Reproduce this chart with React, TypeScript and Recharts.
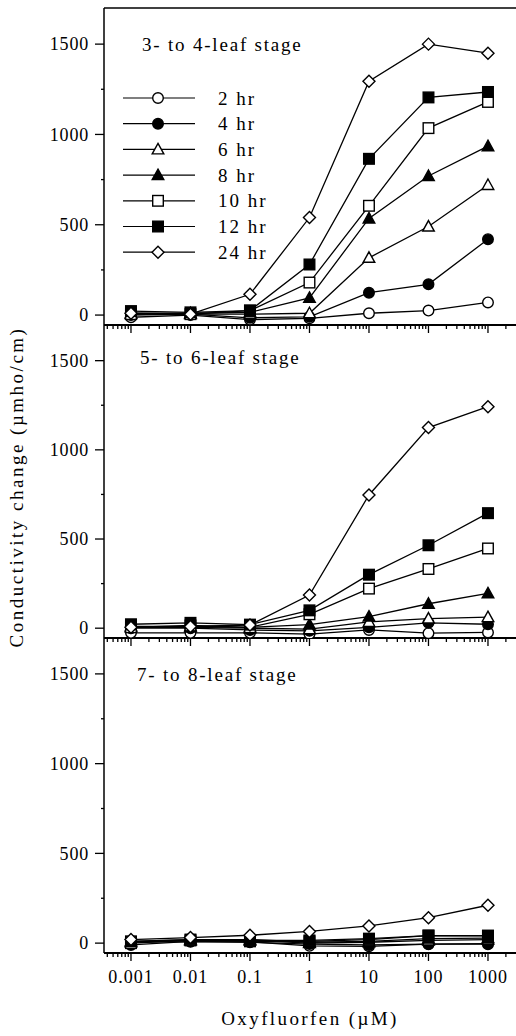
import React from "react";
import { LineChart, Line, XAxis, YAxis, ReferenceLine, Legend } from "recharts";

// Oxyfluorfen doses (µM), one point per dose for every series
const doses = [0.001, 0.01, 0.1, 1, 10, 100, 1000];
const hours = ["2 hr", "4 hr", "6 hr", "8 hr", "10 hr", "12 hr", "24 hr"];
const markers = ["circle", "disc", "triangle", "triangleFilled", "square", "squareFilled", "diamond"];
const stageLabels = ["3- to 4-leaf stage", "5- to 6-leaf stage", "7- to 8-leaf stage"];

// conductivity change (µmho/cm), rows in the order of `hours`
const stage34 = [
  [-12, 0, -25, -18, 10, 25, 70],
  [0, 5, -15, -10, 124, 170, 420],
  [5, 5, 5, 10, 317, 490, 720],
  [10, 10, 15, 95, 535, 770, 935],
  [5, 5, 25, 180, 605, 1035, 1180],
  [22, 15, 25, 280, 865, 1205, 1235],
  [10, 5, 115, 540, 1295, 1500, 1450],
];
const stage56 = [
  [-26, -26, -26, -33, -10, -28, -24],
  [0, 0, -10, -15, 5, 30, 22],
  [5, 5, 0, -5, 35, 54, 62],
  [10, 10, 5, 20, 65, 137, 195],
  [5, 15, 5, 78, 222, 332, 447],
  [22, 30, 20, 100, 300, 465, 645],
  [5, 10, 18, 186, 747, 1125, 1242],
];
const stage78 = [
  [7, 7, 7, -15, -18, -6, -6],
  [-10, 10, 5, -5, -10, -5, -3],
  [5, 15, 15, 0, 5, 15, 20],
  [10, 20, 20, 5, 10, 25, 28],
  [0, 15, 10, 10, 20, 42, 40],
  [10, 20, 15, 15, 25, 42, 42],
  [20, 31, 44, 65, 96, 142, 211],
];

const yTicks = [0, 250, 500, 750, 1000, 1250, 1500];
const yLabels = [0, 500, 1000, 1500];
const xLabels = ["0.001", "0.01", "0.1", "1", "10", "100", "1000"];

const X_DOMAIN = [0.000352, 2958];
const Y_DOMAIN = [-55, 1700];
const FONT = "'Liberation Serif', 'DejaVu Serif', serif";

// log minor ticks 1..9 per decade inside the domain
const xTicks: number[] = [];
for (let n = -4; n <= 3; n++) {
  for (let m = 1; m <= 9; m++) {
    const v = Number((m * Math.pow(10, n)).toPrecision(6));
    if (v >= X_DOMAIN[0] && v <= X_DOMAIN[1]) xTicks.push(v);
  }
}

const Marker = ({ kind, cx, cy }: { kind: string; cx: number; cy: number }) => {
  const filled = kind === "disc" || kind === "triangleFilled" || kind === "squareFilled";
  const common = { fill: filled ? "#000" : "#fff", stroke: "#000", strokeWidth: 1.4 };
  if (kind === "circle" || kind === "disc") return <circle cx={cx} cy={cy} r={5.3} {...common} />;
  if (kind === "square" || kind === "squareFilled")
    return <rect x={cx - 5.3} y={cy - 5.3} width={10.6} height={10.6} {...common} />;
  if (kind === "diamond")
    return <polygon points={`${cx},${cy - 6} ${cx + 6},${cy} ${cx},${cy + 6} ${cx - 6},${cy}`} {...common} />;
  return <polygon points={`${cx},${cy - 6} ${cx + 5.8},${cy + 4.5} ${cx - 5.8},${cy + 4.5}`} {...common} />;
};

const XTick = (props: any) => {
  const { x, y, payload, showLabel } = props;
  const v = payload.value;
  const idx = doses.findIndex((d) => Math.abs(d - v) / d < 1e-6);
  const major = Math.abs(Math.log10(v) - Math.round(Math.log10(v))) < 1e-6;
  return (
    <g>
      <line x1={x} x2={x} y1={y} y2={y + (major ? 8 : 4)} stroke="#000" strokeWidth={1.3} />
      {showLabel && idx >= 0 && (
        <text x={x} y={y + 30} textAnchor="middle" fontFamily={FONT} fontSize={18} letterSpacing={1} fill="#000">
          {xLabels[idx]}
        </text>
      )}
    </g>
  );
};

const YTick = (props: any) => {
  const { x, y, payload } = props;
  const major = yLabels.includes(payload.value);
  return (
    <g>
      <line x1={x - (major ? 9 : 3)} x2={x} y1={y} y2={y} stroke="#000" strokeWidth={1.3} />
      {major && (
        <text x={x - 15} y={y} dy="0.35em" textAnchor="end" fontFamily={FONT} fontSize={18} letterSpacing={0.8} fill="#000">
          {payload.value}
        </text>
      )}
    </g>
  );
};

const LegendRows = (props: any) => {
  // keep the series order (2, 4, 6 ... 24 hr), not the alphabetical one
  const payload = [...(props.payload || [])].sort(
    (a: any, b: any) => hours.indexOf(a.value) - hours.indexOf(b.value)
  );
  return (
    <svg width={200} height={190} style={{ overflow: "visible" }}>
      {payload.map((e: any, i: number) => {
        const kind = markers[hours.indexOf(e.value)];
        const y = 12 + i * 25.7;
        return (
          <g key={e.value}>
            <line x1={0} x2={72} y1={y} y2={y} stroke="#000" strokeWidth={1.2} />
            <Marker kind={kind} cx={35} cy={y} />
            <text x={95} y={y} dy="0.35em" fontFamily={FONT} fontSize={19} letterSpacing={2} fill="#000">
              {e.value}
            </text>
          </g>
        );
      })}
    </svg>
  );
};

const Panel = ({
  values,
  top,
  height,
  axisHeight,
  marginTop,
  showLabels,
  showLegend,
}: {
  values: number[][];
  top: number;
  height: number;
  axisHeight: number;
  marginTop: number;
  showLabels: boolean;
  showLegend: boolean;
}) => {
  const data = doses.map((d, i) => {
    const row: Record<string, number> = { dose: d };
    hours.forEach((h, s) => (row[h] = values[s][i]));
    return row;
  });
  return (
    <div style={{ position: "absolute", left: 0, top }}>
      <LineChart width={516} height={height} data={data} margin={{ top: marginTop, right: 0, bottom: 0, left: 0 }}>
        <XAxis
          dataKey="dose"
          type="number"
          scale="log"
          domain={X_DOMAIN}
          allowDataOverflow
          ticks={xTicks}
          interval={0}
          height={axisHeight}
          tickSize={0}
          tickMargin={0}
          tickLine={false}
          axisLine={{ stroke: "#000", strokeWidth: 2 }}
          tick={<XTick showLabel={showLabels} />}
        />
        <YAxis
          type="number"
          domain={Y_DOMAIN}
          allowDataOverflow
          ticks={yTicks}
          interval={0}
          width={104}
          tickSize={0}
          tickMargin={0}
          tickLine={false}
          axisLine={{ stroke: "#000", strokeWidth: 1.5 }}
          tick={<YTick />}
        />
        {marginTop > 0 && <ReferenceLine y={Y_DOMAIN[1]} stroke="#000" strokeWidth={1.5} />}
        {showLegend && (
          <Legend
            layout="vertical"
            align="center"
            verticalAlign="middle"
            wrapperStyle={{ left: 123, top: 86, width: 200 }}
            content={<LegendRows />}
          />
        )}
        {hours.map((h, s) => (
          <Line
            key={h}
            dataKey={h}
            name={h}
            stroke="#000"
            strokeWidth={1.3}
            activeDot={false}
            isAnimationActive={false}
            dot={(p: any) => <Marker key={`${h}-${p.index}`} kind={markers[s]} cx={p.cx} cy={p.cy} />}
          />
        ))}
      </LineChart>
    </div>
  );
};

const textStyle: React.CSSProperties = {
  position: "absolute",
  fontFamily: FONT,
  fontSize: 19,
  lineHeight: "20px",
  color: "#000",
  whiteSpace: "nowrap",
};

export default function App() {
  return (
    <div style={{ position: "absolute", left: 0, top: 0, width: 516, height: 1036, overflow: "hidden", background: "#fff" }}>
      <Panel values={stage34} top={0} height={340} axisHeight={15} marginTop={8} showLabels={false} showLegend />
      <Panel values={stage56} top={325} height={328} axisHeight={15} marginTop={0} showLabels={false} showLegend={false} />
      <Panel values={stage78} top={638} height={398} axisHeight={83} marginTop={0} showLabels showLegend={false} />

      <div style={{ ...textStyle, left: 142, top: 35, letterSpacing: 1.8 }}>{stageLabels[0]}</div>
      <div style={{ ...textStyle, left: 140, top: 348, letterSpacing: 1.8 }}>{stageLabels[1]}</div>
      <div style={{ ...textStyle, left: 137, top: 665, letterSpacing: 1.8 }}>{stageLabels[2]}</div>

      <div
        style={{
          ...textStyle,
          left: 17,
          top: 487,
          letterSpacing: 2.5,
          transform: "translate(-50%, -50%) rotate(-90deg)",
        }}
      >
        Conductivity change (µmho/cm)
      </div>
      <div style={{ ...textStyle, left: 310, top: 1009, letterSpacing: 2.4, transform: "translateX(-50%)" }}>
        Oxyfluorfen (µM)
      </div>
    </div>
  );
}
